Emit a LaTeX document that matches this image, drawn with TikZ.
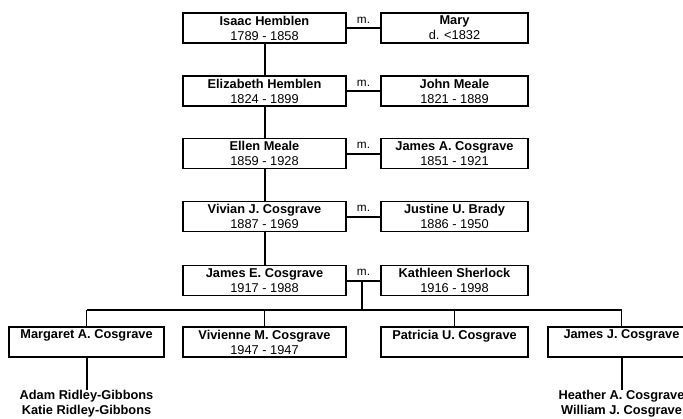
\documentclass[tikz,border=0pt]{standalone}
\usepackage{fontspec}
\setmainfont{Liberation Sans}
\pgfdeclarelayer{bg}
\pgfsetlayers{bg,main}
\begin{document}
\begin{tikzpicture}[x=1pt,y=-1pt,
  person/.style={draw=black, line width=1.8pt, fill=white, minimum height=30pt,
    inner sep=0pt, align=center, font=\fontsize{12.8}{15}\selectfont},
  lcol/.style={person, minimum width=163pt},
  rcol/.style={person, minimum width=147pt},
  link/.style={line width=2pt},
  bus/.style={line width=1.2pt},
  mlabel/.style={font=\fontsize{11.8}{13}\selectfont, inner sep=0pt},
  kids/.style={font=\bfseries\fontsize{12.8}{15}\selectfont, align=center, inner sep=0pt, anchor=north}
]
\useasboundingbox (0,0) rectangle (683,418);
% generation rows
\node[lcol] (isaac) at (264.5,28) {\textbf{Isaac Hemblen}\\1789 - 1858};
\node[rcol] (mary) at (454.5,28) {\textbf{Mary}\\d. <1832};
\node[lcol] (eliz) at (264.5,91) {\textbf{Elizabeth Hemblen}\\1824 - 1899};
\node[rcol] (john) at (454.5,91) {\textbf{John Meale}\\1821 - 1889};
\node[lcol] (ellen) at (264.5,153.5) {\textbf{Ellen Meale}\\1859 - 1928};
\node[rcol] (jamesa) at (454.5,153.5) {\textbf{James A. Cosgrave}\\1851 - 1921};
\node[lcol] (vivian) at (264.5,216.5) {\textbf{Vivian J. Cosgrave}\\1887 - 1969};
\node[rcol] (justine) at (454.5,216.5) {\textbf{Justine U. Brady}\\1886 - 1950};
\node[lcol] (jamese) at (264.5,280.5) {\textbf{James E. Cosgrave}\\1917 - 1988};
\node[rcol] (kath) at (454.5,280.5) {\textbf{Kathleen Sherlock}\\1916 - 1998};
% marriage labels
\node[mlabel] (m1) at (363.5,20) {m.};
\node[mlabel] (m2) at (363.5,83) {m.};
\node[mlabel] (m3) at (363.5,145.5) {m.};
\node[mlabel] (m4) at (363.5,208.5) {m.};
\node[mlabel] (m5) at (363.5,272.5) {m.};
% children
\node[person, minimum width=155pt] (marg) at (86.5,342) {\textbf{Margaret A. Cosgrave}\\\phantom{0}};
\node[lcol] (vivienne) at (264.5,342) {\textbf{Vivienne M. Cosgrave}\\1947 - 1947};
\node[rcol] (patricia) at (454.5,342) {\textbf{Patricia U. Cosgrave}\\\phantom{0}};
\node[rcol] (jamesj) at (621.5,342) {\textbf{James J. Cosgrave}\\\phantom{0}};
% grandchildren
\node[kids] (gkm) at (86.5,390) {Adam Ridley-Gibbons\\Katie Ridley-Gibbons};
\node[kids] (gkj) at (621.5,390) {Heather A. Cosgrave\\William J. Cosgrave};
\begin{pgfonlayer}{bg}
% marriage lines
\draw[link] (isaac.east) -- (mary.west);
\draw[link] (eliz.east) -- (john.west);
\draw[link] (ellen.east) -- (jamesa.west);
\draw[link] (vivian.east) -- (justine.west);
\draw[link] (jamese.east) -- (kath.west);
% descent
\draw[link] (isaac.south) -- (eliz.north);
\draw[link] (eliz.south) -- (ellen.north);
\draw[link] (ellen.south) -- (vivian.north);
\draw[link] (vivian.south) -- (jamese.north);
\coordinate (mid) at (362,280.5);
\coordinate (busc) at (362,310);
\draw[link] (mid) -- (busc);
\draw[bus] (marg.north |- busc) -- (jamesj.north |- busc);
\foreach \c in {marg,vivienne,patricia,jamesj}
  \draw[bus] (\c.north |- busc) -- (\c.north);
\draw[link] (marg.south) -- (gkm.north);
\draw[link] (jamesj.south) -- (gkj.north);
\end{pgfonlayer}
\end{tikzpicture}
\end{document}
